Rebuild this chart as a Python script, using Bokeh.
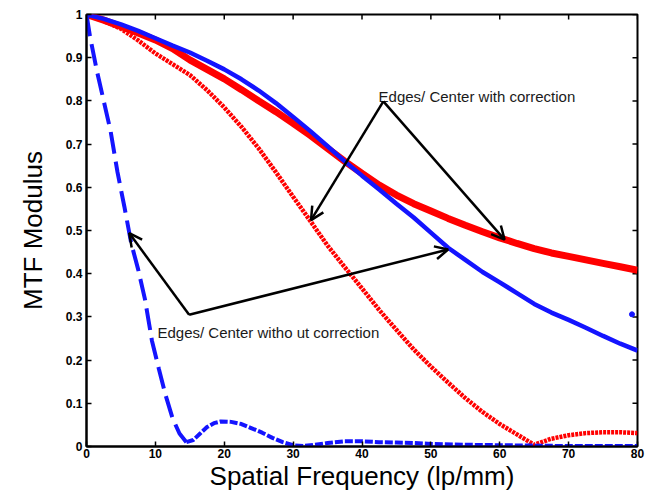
from bokeh.plotting import figure
from bokeh.models import (FixedTicker, CustomJSTickFormatter, Range1d,
                          Arrow, OpenHead, Label)
from bokeh.embed import file_html
from bokeh.resources import INLINE

# ---------------- data ----------------
x_ticks = [0, 10, 20, 30, 40, 50, 60, 70, 80]
y_ticks = [0, 0.1, 0.2, 0.3, 0.4, 0.5, 0.6, 0.7, 0.8, 0.9, 1.0]

# blue, upper curve (dotted markers)
blue_up_x = [0, 2.5, 5, 7.5, 10, 12.5, 15, 17.5, 20, 22.5, 25, 27.5, 30, 32.5, 35,
             37.5, 40, 42.5, 45, 47.5, 50, 52.5, 55, 57.5, 60, 62.5, 65, 67.5, 70,
             72.5, 75, 77.5, 80]
blue_up_y = [1.0, 0.99, 0.977, 0.962, 0.945, 0.928, 0.912, 0.893, 0.873, 0.85, 0.824,
             0.795, 0.763, 0.73, 0.695, 0.66, 0.627, 0.595, 0.562, 0.53, 0.495, 0.46,
             0.432, 0.404, 0.38, 0.355, 0.33, 0.31, 0.293, 0.275, 0.256, 0.238, 0.222]

# red, thick curve
red_thick_x = [0, 2.5, 5, 7.5, 10, 12.5, 15, 17.5, 20, 22.5, 25, 27.5, 30, 32.5, 35,
               37.5, 40, 42.5, 45, 47.5, 50, 52.5, 55, 57.5, 60, 62.5, 65, 67.5, 70,
               72.5, 75, 77.5, 80]
red_thick_y = [1.0, 0.987, 0.972, 0.957, 0.941, 0.921, 0.895, 0.873, 0.851, 0.826, 0.8,
               0.775, 0.748, 0.72, 0.69, 0.66, 0.632, 0.605, 0.582, 0.562, 0.545, 0.528,
               0.512, 0.497, 0.483, 0.47, 0.458, 0.448, 0.44, 0.432, 0.424, 0.416, 0.408]

# red, thin curve
red_thin_x = [0, 2.5, 5, 7.5, 10, 12.5, 15, 17.5, 20, 22.5, 25, 27.5, 30, 32.5, 35,
              37.5, 40, 42.5, 45, 47.5, 50, 52.5, 55, 57.5, 60, 62.5, 65, 67.5, 70,
              72.5, 75, 77.5, 80]
red_thin_y = [1.0, 0.985, 0.967, 0.94, 0.91, 0.885, 0.86, 0.825, 0.785, 0.74, 0.69,
              0.635, 0.578, 0.522, 0.465, 0.415, 0.366, 0.316, 0.27, 0.225, 0.185,
              0.148, 0.112, 0.08, 0.052, 0.028, 0.004, 0.018, 0.026, 0.031, 0.033,
              0.033, 0.031]

# blue, dashed lower curve (steep part, then low tail)
blue_lo_x = [0, 0.5, 1.5, 2.5, 3.5, 4.5, 5.5, 6.5, 7.5, 8.5, 9.5, 10.5, 11.5, 12.5,
             13.5, 14.5]
blue_lo_y = [1.0, 0.95, 0.87, 0.80, 0.73, 0.635, 0.555, 0.47, 0.41, 0.34, 0.245, 0.18,
             0.118, 0.065, 0.03, 0.01]
blue_tail_x = [14.5, 15.5, 16.5, 17.5, 18.5, 19.5, 21, 22.5, 24, 25.5, 27, 28.5, 30,
               31.5, 33, 35, 37.5, 40, 42.5, 45, 47.5, 50, 55, 60, 65, 70, 75, 80]
blue_tail_y = [0.01, 0.015, 0.03, 0.045, 0.054, 0.058, 0.057, 0.052, 0.042, 0.032, 0.02,
               0.01, 0.003, 0.001, 0.004, 0.008, 0.012, 0.012, 0.01, 0.009, 0.008, 0.006,
               0.004, 0.003, 0.002, 0.001, 0.001, 0.001]

# stray blue point near the right edge
stray_x = [79.2]
stray_y = [0.306]

# annotations
label_with = "Edges/ Center with correction"
label_without = "Edges/ Center witho ut correction"
with_text_pos = (42.4, 0.811)
without_text_pos = (10.3, 0.264)
with_apex = (43.1, 0.799)
with_tips = [(32.6, 0.524), (60.7, 0.479)]
without_apex = (14.9, 0.305)
without_tips = [(6.2, 0.494), (52.5, 0.456)]

# ---------------- figure ----------------
FONT = "Liberation Sans"
X0, X1, Y0, Y1 = 0, 80, 0, 1

W, H = 651, 493
ML, MR, MT, MB = 86, 14, 14, 43

p = figure(width=W, height=H, x_range=Range1d(X0, X1), y_range=Range1d(Y0, Y1),
           output_backend="svg", toolbar_location=None,
           min_border_left=ML, min_border_right=MR, min_border_top=MT,
           min_border_bottom=MB)
p.grid.visible = False
p.outline_line_color = "black"
p.outline_line_width = 2
p.background_fill_color = "white"
p.border_fill_color = "white"

fmt = CustomJSTickFormatter(code="return String(Math.round(tick*10)/10)")

for ax in (p.xaxis[0], p.yaxis[0]):
    ax.axis_line_width = 2
    ax.axis_line_color = "black"
    ax.major_tick_in = 5
    ax.major_tick_out = 0
    ax.major_tick_line_width = 1.5
    ax.minor_tick_line_color = None
    ax.major_label_text_font = FONT
    ax.major_label_text_font_style = "bold"
    ax.major_label_text_font_size = "12px"
    ax.major_label_text_color = "black"
    ax.axis_label_text_font = FONT
    ax.axis_label_text_font_style = "normal"
    ax.axis_label_text_font_size = "26px"
    ax.axis_label_text_color = "black"
    ax.formatter = fmt

p.xaxis[0].ticker = FixedTicker(ticks=x_ticks)
p.yaxis[0].ticker = FixedTicker(ticks=y_ticks)
p.xaxis[0].axis_label = "Spatial Frequency (lp/mm)"
p.yaxis[0].axis_label = "MTF Modulus"
p.xaxis[0].major_label_standoff = 2
p.xaxis[0].axis_label_standoff = 0
p.yaxis[0].major_label_standoff = 4
p.yaxis[0].axis_label_standoff = 15

# inward tick marks on the top and right edges (box, as in the original)
frame_w = W - ML - MR
frame_h = H - MT - MB
tick_len_px = 5
dy = tick_len_px * (Y1 - Y0) / frame_h
dx = tick_len_px * (X1 - X0) / frame_w
p.segment(x0=x_ticks, y0=[Y1] * len(x_ticks), x1=x_ticks, y1=[Y1 - dy] * len(x_ticks),
          line_color="black", line_width=1.5)
p.segment(x0=[X1] * len(y_ticks), y0=y_ticks, x1=[X1 - dx] * len(y_ticks), y1=y_ticks,
          line_color="black", line_width=1.5)

BLUE = "#1414ff"
RED = "#ff0000"

p.line(red_thin_x, red_thin_y, line_color=RED, line_width=4.5, line_dash="3 1")
p.line(red_thick_x, red_thick_y, line_color=RED, line_width=7)
p.line(blue_up_x, blue_up_y, line_color=BLUE, line_width=4.5)
p.line(blue_lo_x, blue_lo_y, line_color=BLUE, line_width=4, line_dash="22 8")
p.line(blue_tail_x, blue_tail_y, line_color=BLUE, line_width=4, line_dash="8 2")
p.scatter(stray_x, stray_y, size=5, color=BLUE)

for txt, (tx, ty) in ((label_with, with_text_pos), (label_without, without_text_pos)):
    p.add_layout(Label(x=tx, y=ty, text=txt, text_font=FONT, text_font_size="15px",
                       text_color="#1a1a1a", text_baseline="alphabetic",
                       text_align="left"))

for (ax_, ay_), tips in ((with_apex, with_tips), (without_apex, without_tips)):
    for (tx, ty) in tips:
        p.add_layout(Arrow(end=OpenHead(size=13, line_width=2.5, line_color="black"),
                           x_start=ax_, y_start=ay_, x_end=tx, y_end=ty,
                           line_width=2.5, line_color="black"))

open("out.html", "w").write(file_html(p, INLINE))
